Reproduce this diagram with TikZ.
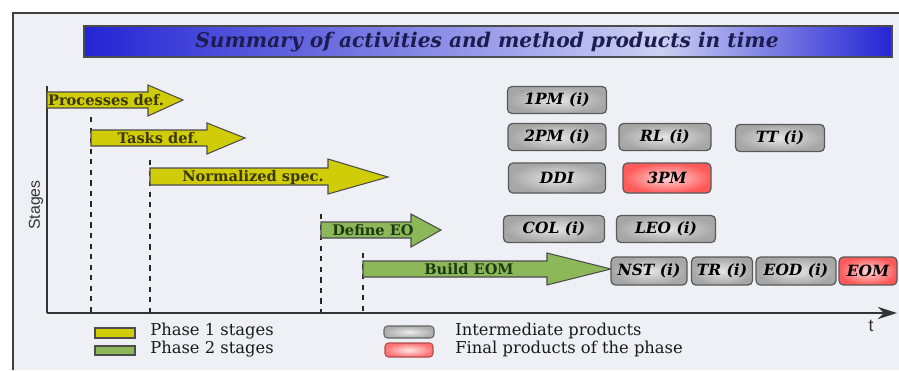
\documentclass[tikz,border=0pt]{standalone}
\usepackage{fontspec}
\setmainfont{DejaVu Serif}
\newfontfamily\axisfont{Liberation Sans}
\usetikzlibrary{calc,arrows.meta}

\definecolor{panel}{HTML}{EEF0F5}
\definecolor{titleblue}{HTML}{2424D4}
\definecolor{titlelight}{HTML}{CCD0F2}
\definecolor{titleink}{HTML}{1C1C50}
\definecolor{stageyellow}{HTML}{D0CC08}
\definecolor{stagegreen}{HTML}{8CB85A}
\definecolor{yellowink}{HTML}{3A3800}
\definecolor{greenink}{HTML}{1E3812}

\begin{document}
\begin{tikzpicture}[x=0.02cm, y=-0.02cm,
    phaseone/.style={fill=stageyellow, draw=black!70, line width=0.6pt},
    phasetwo/.style={fill=stagegreen, draw=black!70, line width=0.6pt},
    stagelabel/.style={font=\bfseries\fontsize{8.3}{10}\selectfont, inner sep=0pt},
    product/.style={draw=black!65, rounded corners=2.5pt, line width=0.7pt,
        inner color=gray!20, outer color=gray!70, minimum height=0.54cm,
        font=\bfseries\itshape\fontsize{8.8}{10}\selectfont, inner sep=1pt},
    final/.style={product, inner color=red!15, outer color=red!65},
    legendtext/.style={anchor=west, font=\fontsize{9.3}{11}\selectfont, text=black!90, inner sep=0pt}]

    % frame and background
    \useasboundingbox (0,0) rectangle (899,370);
    \fill[white] (0,0) rectangle (899,370);
    \fill[panel] (13,13) rectangle (899,370);
    \draw[black!75, line width=0.8pt] (13,370) -- (13,13) -- (899,13);

    % title bar
    \shade[left color=titleblue, right color=titlelight] (84,26) rectangle (660,57);
    \shade[left color=titlelight, right color=titleblue] (660,26) rectangle (892,57);
    \draw[black!70, line width=0.6pt] (84,26) rectangle (892,57);
    \node[font=\bfseries\itshape\fontsize{11.5}{13}\selectfont, text=titleink] (title) at (487,42)
        {Summary of activities and method products in time};

    % axes
    \node[rotate=90, font=\axisfont\fontsize{9}{10}\selectfont, text=black!80] (stagesLbl) at (36,205) {Stages};
    \coordinate (origin) at (47,313);
    \coordinate (ytop) at (47,86);
    \coordinate (xend) at (897,313);
    \draw[black!80, line width=0.9pt] (ytop) -- (origin);
    \draw[black!80, line width=0.9pt, -{Stealth[length=11pt, width=7pt]}] (origin) -- (xend);
    \node[font=\axisfont\fontsize{10}{11}\selectfont, text=black!80] (tLbl) at (871,326) {t};

    % start lines
    \draw[dashed, black!85, line width=0.8pt] (91,117) -- (91,313);
    \draw[dashed, black!85, line width=0.8pt] (150,160) -- (150,313);
    \draw[dashed, black!85, line width=0.8pt] (321,214) -- (321,313);
    \draw[dashed, black!85, line width=0.8pt] (363,253) -- (363,313);

    % stages
    \draw[phaseone] (47,92) -- (148,92) -- (148,85) -- (183,100) -- (148,116) -- (148,108) -- (47,108) -- cycle;
        \node[stagelabel, text=yellowink] (procDef) at (106,100) {Processes def.};
    \draw[phaseone] (91,130) -- (207,130) -- (207,123) -- (245,138) -- (207,154) -- (207,146) -- (91,146) -- cycle;
        \node[stagelabel, text=yellowink] (tasksDef) at (158,138) {Tasks def.};
    \draw[phaseone] (150,168) -- (328,168) -- (328,159) -- (388,177) -- (328,194) -- (328,185) -- (150,185) -- cycle;
        \node[stagelabel, text=yellowink] (normSpec) at (253,177) {Normalized spec.};
    \draw[phasetwo] (321,222) -- (411,222) -- (411,214) -- (441,230) -- (411,247) -- (411,238) -- (321,238) -- cycle;
        \node[stagelabel, text=greenink] (defEO) at (373,230) {Define EO};
    \draw[phasetwo] (363,261) -- (547,261) -- (547,253) -- (611,269) -- (547,285) -- (547,277) -- (363,277) -- cycle;
        \node[stagelabel, text=greenink] (buildEOM) at (469,269) {Build EOM};

    % products
    \node[product, minimum width=1.98cm] (pmOne) at (557,100) {1PM (i)};
    \node[product, minimum width=1.96cm] (pmTwo) at (557,137) {2PM (i)};
    \node[product, minimum width=1.84cm] (rl) at (665,137) {RL (i)};
    \node[product, minimum width=1.78cm] (tt) at (780,138) {TT (i)};
    \node[product, minimum width=1.94cm, minimum height=0.6cm] (ddi) at (557,178) {DDI};
    \node[final, minimum width=1.76cm, minimum height=0.6cm] (pmThree) at (667,178) {3PM};
    \node[product, minimum width=2.02cm] (col) at (554,229) {COL (i)};
    \node[product, minimum width=1.98cm] (leo) at (666,229) {LEO (i)};
    \node[product, minimum width=1.52cm, minimum height=0.56cm] (nst) at (649,271) {NST (i)};
    \node[product, minimum width=1.22cm, minimum height=0.56cm] (tr) at (722,271) {TR (i)};
    \node[product, minimum width=1.6cm, minimum height=0.56cm] (eod) at (796,271) {EOD (i)};
    \node[final, minimum width=1.16cm, minimum height=0.56cm] (eom) at (868,271) {EOM};

    % legend
    \draw[phaseone] (95,328) rectangle (135,338);
    \node[legendtext] (legOne) at (150,331) {Phase 1 stages};
    \draw[phasetwo] (95,346) rectangle (135,355);
    \node[legendtext] (legTwo) at (150,349) {Phase 2 stages};
    \draw[draw=black!60, rounded corners=2pt, line width=0.6pt, inner color=gray!15, outer color=gray!65] (384,326) rectangle (434,338);
    \node[legendtext] (legInt) at (455,331) {Intermediate products};
    \draw[draw=red!40!gray, rounded corners=2pt, line width=0.6pt, inner color=red!10, outer color=red!55] (385,343) rectangle (433,357);
    \node[legendtext] (legFin) at (455,349) {Final products of the phase};
\end{tikzpicture}
\end{document}
